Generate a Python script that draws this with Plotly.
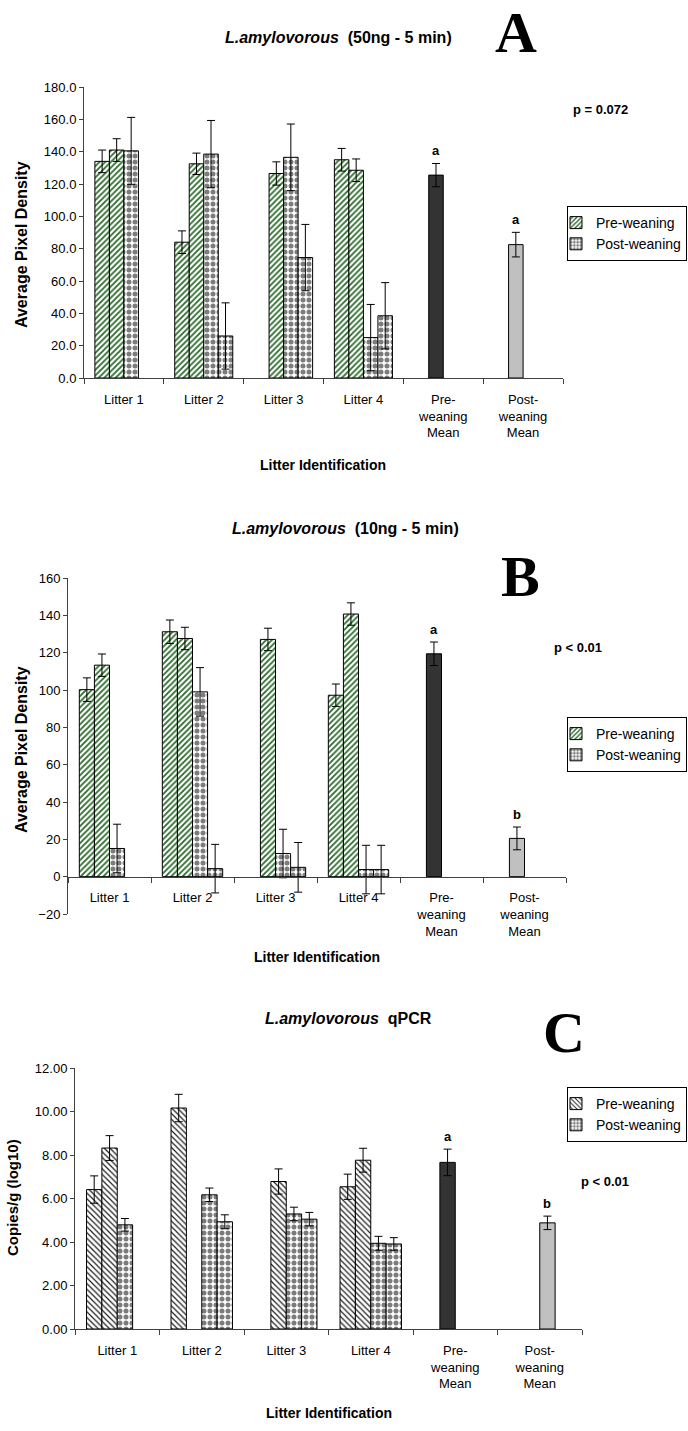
import plotly.graph_objects as go

W, H = 688, 1431

# ---------------- data ----------------
categories = ["Litter 1", "Litter 2", "Litter 3", "Litter 4", "Pre-weaning Mean", "Post-weaning Mean"]
tick_labels = ["Litter 1", "Litter 2", "Litter 3", "Litter 4", "Pre-<br>weaning<br>Mean", "Post-<br>weaning<br>Mean"]

# Panel A: L.amylovorous (50ng - 5 min), four series (animals) per litter
A_s1 = [134.0, 84.0, None, 135.0, None, None]
A_s2 = [141.0, 132.5, 126.5, 128.5, 125.5, 82.5]
A_s3 = [140.5, 138.5, 136.5, 25.0, None, None]
A_s4 = [None, 26.0, 74.5, 38.5, None, None]
A_e1 = [7.0, 7.0, None, 7.0, None, None]
A_e2 = [7.0, 6.6, 7.2, 7.0, 7.2, 7.6]
A_e3 = [20.7, 20.8, 20.6, 20.5, None, None]
A_e4 = [None, 20.5, 20.5, 20.5, None, None]

# Panel B: L.amylovorous (10ng - 5 min)
B_s1 = [100.2, 131.2, None, 97.2, None, None]
B_s2 = [113.3, 127.6, 127.1, 140.7, 119.4, 20.5]
B_s3 = [15.1, 99.0, 12.4, 3.8, None, None]
B_s4 = [None, 4.3, 5.0, 3.8, None, None]
B_e1 = [6.3, 6.3, None, 6.0, None, None]
B_e2 = [6.0, 6.0, 6.0, 6.0, 6.3, 6.1]
B_e3 = [13.0, 13.0, 13.0, 13.0, None, None]
B_e4 = [None, 13.0, 13.3, 13.0, None, None]

# phase of each bar in panels A and B
AB_p1 = ["pre", "pre", None, "pre", None, None]
AB_p2 = ["pre", "pre", "pre", "pre", "premean", "postmean"]
AB_p3 = ["post", "post", "post", "post", None, None]
AB_p4 = [None, "post", "post", "post", None, None]

# Panel C: L.amylovorous qPCR, copies/g (log10)
C_s1 = [6.41, 10.16, None, 6.54, None, None]
C_s2 = [8.32, None, 6.78, 7.76, 7.66, None]
C_s3 = [4.79, 6.17, 5.29, 3.94, None, 4.88]
C_s4 = [None, 4.93, 5.05, 3.91, None, None]
C_e1 = [0.63, 0.63, None, 0.58, None, None]
C_e2 = [0.57, None, 0.58, 0.55, 0.61, None]
C_e3 = [0.29, 0.31, 0.31, 0.32, None, 0.31]
C_e4 = [None, 0.32, 0.31, 0.29, None, None]
C_p1 = ["pre", "pre", None, "pre", None, None]
C_p2 = ["pre", None, "pre", "pre", "premean", None]
C_p3 = ["post", "post", "post", "post", None, "postmean"]
C_p4 = [None, "post", "post", "post", None, None]

# significance letters above means (pre mean, post mean)
A_sig = ["a", "a"]
B_sig = ["a", "b"]
C_sig = ["a", "b"]
p_texts = ["p = 0.072", "p < 0.01", "p < 0.01"]
titles = ["<b><i>L.amylovorous</i>&nbsp;&nbsp;(50ng - 5 min)</b>",
          "<b><i>L.amylovorous</i>&nbsp;&nbsp;(10ng - 5 min)</b>",
          "<b><i>L.amylovorous</i>&nbsp;&nbsp;qPCR</b>"]
panel_letters = ["A", "B", "C"]
y_titles = ["Average Pixel Density", "Average Pixel Density", "Copies/g (log10)"]
x_title = "Litter Identification"
legend_names = ["Pre-weaning", "Post-weaning"]

# ---------------- styles ----------------
FONT = "Liberation Sans, Arial, sans-serif"
SERIF = "Liberation Serif, Times New Roman, serif"
N_SLOTS = 4
SLOT_W = 1.0 / (N_SLOTS + 1.5)          # Excel gap width 150%
FIRST = -0.5 + 0.75 * SLOT_W

GREEN_HATCH = dict(color="white", shape="/", fg="#2a6a2a", bg="white", size=4, sol=0.45)
BLACK_HATCH = dict(color="white", shape="\\", fg="#1e1e1e", bg="white", size=4, sol=0.3)
CHECKER = dict(color="white", shape=".", fg="#7c7c7c", bg="white", size=6, sol=0.55)
PRE_MEAN = dict(color="#333333", shape="")
POST_MEAN = dict(color="#c0c0c0", shape="")


def px_x(v):
    return v / W


def px_y(v):
    return 1 - v / H


def marker_for(st, size=None):
    m = dict(color=st["color"], line=dict(color="black", width=1))
    if st["shape"]:
        m["pattern"] = dict(shape=st["shape"], fgcolor=st["fg"], bgcolor=st["bg"],
                            size=size or st["size"], solidity=st["sol"], fillmode="replace")
    return m


fig = go.Figure()


def add_panel(n, series, errors, phases, pre_style, sig, legend_id):
    xa = "x" if n == 1 else f"x{n}"
    ya = "y" if n == 1 else f"y{n}"
    styles = {"pre": pre_style, "post": CHECKER, "premean": PRE_MEAN, "postmean": POST_MEAN}
    for k, (vals, errs, ph) in enumerate(zip(series, errors, phases)):
        for phase in ["pre", "post", "premean", "postmean"]:
            if phase not in ph:
                continue
            yv = [v if p == phase else None for v, p in zip(vals, ph)]
            ev = [e if p == phase else None for e, p in zip(errs, ph)]
            fig.add_trace(go.Bar(
                x=tick_labels, y=yv, width=SLOT_W, offset=FIRST + k * SLOT_W,
                marker=marker_for(styles[phase]),
                error_y=dict(type="data", array=ev, visible=True, color="black",
                             thickness=1, width=4),
                xaxis=xa, yaxis=ya, showlegend=False, hoverinfo="skip"))
        # significance letters on the means
        for i, p in enumerate(ph):
            if p in ("premean", "postmean"):
                letter = sig[0] if p == "premean" else sig[1]
                fig.add_annotation(x=i + FIRST + (k + 0.5) * SLOT_W, y=vals[i] + errs[i],
                                   xref=xa, yref=ya, text=f"<b>{letter}</b>", showarrow=False,
                                   yanchor="middle", yshift=13,
                                   font=dict(family=FONT, size=13, color="black"))
    for name, st in zip(legend_names, [pre_style, CHECKER]):
        fig.add_trace(go.Bar(
            x=[tick_labels[0]], y=[None], name=name, marker=marker_for(st, size=4),
            xaxis=xa, yaxis=ya, legend=legend_id, showlegend=True, hoverinfo="skip"))


add_panel(1, [A_s1, A_s2, A_s3, A_s4], [A_e1, A_e2, A_e3, A_e4],
          [AB_p1, AB_p2, AB_p3, AB_p4], GREEN_HATCH, A_sig, "legend")
add_panel(2, [B_s1, B_s2, B_s3, B_s4], [B_e1, B_e2, B_e3, B_e4],
          [AB_p1, AB_p2, AB_p3, AB_p4], GREEN_HATCH, B_sig, "legend2")
add_panel(3, [C_s1, C_s2, C_s3, C_s4], [C_e1, C_e2, C_e3, C_e4],
          [C_p1, C_p2, C_p3, C_p4], BLACK_HATCH, C_sig, "legend3")

AXIS_COLOR = "#404040"
xcommon = dict(type="category", range=[-0.5, 5.5], tickson="boundaries", ticks="outside",
               ticklen=5, tickcolor=AXIS_COLOR, showline=True, linecolor=AXIS_COLOR, linewidth=1,
               showgrid=False, zeroline=False, fixedrange=True, ticklabelstandoff=9,
               tickfont=dict(family=FONT, size=13, color="black"))
ycommon = dict(ticks="outside", ticklen=4, tickcolor=AXIS_COLOR, showline=True,
               linecolor=AXIS_COLOR, linewidth=1, showgrid=False, zeroline=False,
               fixedrange=True, tickfont=dict(family=FONT, size=13, color="black"))

# panel geometry (pixels)
geo = [
    dict(x0=84, x1=563, ytop=87, ybot=378, rng=[0, 180], dtick=20, fmt=".1f", zero=378),
    dict(x0=68, x1=566, ytop=578, ybot=914, rng=[-20, 160], dtick=20, fmt="d", zero=876.5),
    dict(x0=75, x1=582, ytop=1068, ybot=1329, rng=[0, 12], dtick=2, fmt=".2f", zero=1329),
]

layout = dict(width=W, height=H, margin=dict(l=0, r=0, t=0, b=0, autoexpand=False),
              paper_bgcolor="white", plot_bgcolor="white", barmode="overlay",
              font=dict(family=FONT, color="black"))
for n, g in enumerate(geo, start=1):
    sx = "" if n == 1 else str(n)
    xa = dict(xcommon, domain=[px_x(g["x0"]), px_x(g["x1"])])
    if n == 2:
        xa.update(anchor="free", position=px_y(g["zero"]))
    else:
        xa.update(anchor="y" + sx)
    layout["xaxis" + sx] = xa
    layout["yaxis" + sx] = dict(ycommon, domain=[px_y(g["ybot"]), px_y(g["ytop"])],
                                range=g["rng"], dtick=g["dtick"], tickformat=g["fmt"],
                                anchor="x" + sx)

legend_common = dict(bgcolor="white", bordercolor="black", borderwidth=1,
                     font=dict(family=FONT, size=14, color="black"),
                     xanchor="left", yanchor="top", tracegroupgap=0, indentation=-12)
layout["legend"] = dict(legend_common, x=px_x(567), y=px_y(206))
layout["legend2"] = dict(legend_common, x=px_x(567), y=px_y(717))
layout["legend3"] = dict(legend_common, x=px_x(567), y=px_y(1087))
fig.update_layout(**layout)

# text annotations
title_pos = [(338, 38), (345, 528), (348, 1018)]
letter_pos = [(516, 33), (520, 577), (564, 1032)]
ytitle_pos = [(21, 245), (21, 750), (12, 1198)]
ytitle_size = [16, 16, 15]
xtitle_pos = [(323, 465), (317, 957), (329, 1413)]
p_pos = [(600, 110), (578, 647), (605, 1181)]

for i in range(3):
    fig.add_annotation(x=px_x(title_pos[i][0]), y=px_y(title_pos[i][1]), xref="paper", yref="paper",
                       text=titles[i], showarrow=False, xanchor="center", yanchor="middle",
                       font=dict(family=FONT, size=16, color="black"))
    fig.add_annotation(x=px_x(letter_pos[i][0]), y=px_y(letter_pos[i][1]), xref="paper", yref="paper",
                       text=f"<b>{panel_letters[i]}</b>", showarrow=False, xanchor="center",
                       yanchor="middle", font=dict(family=SERIF, size=58, color="black"))
    fig.add_annotation(x=px_x(ytitle_pos[i][0]), y=px_y(ytitle_pos[i][1]), xref="paper", yref="paper",
                       text=f"<b>{y_titles[i]}</b>", showarrow=False, textangle=-90,
                       xanchor="center", yanchor="middle",
                       font=dict(family=FONT, size=ytitle_size[i], color="black"))
    fig.add_annotation(x=px_x(xtitle_pos[i][0]), y=px_y(xtitle_pos[i][1]), xref="paper", yref="paper",
                       text=f"<b>{x_title}</b>", showarrow=False, xanchor="center", yanchor="middle",
                       font=dict(family=FONT, size=14, color="black"))
    fig.add_annotation(x=px_x(p_pos[i][0]), y=px_y(p_pos[i][1]), xref="paper", yref="paper",
                       text=f"<b>{p_texts[i]}</b>", showarrow=False, xanchor="center", yanchor="middle",
                       font=dict(family=FONT, size=13, color="black"))

fig.write_html("out.html", config={"displayModeBar": False},
               post_script="document.body.style.margin='0px';")
